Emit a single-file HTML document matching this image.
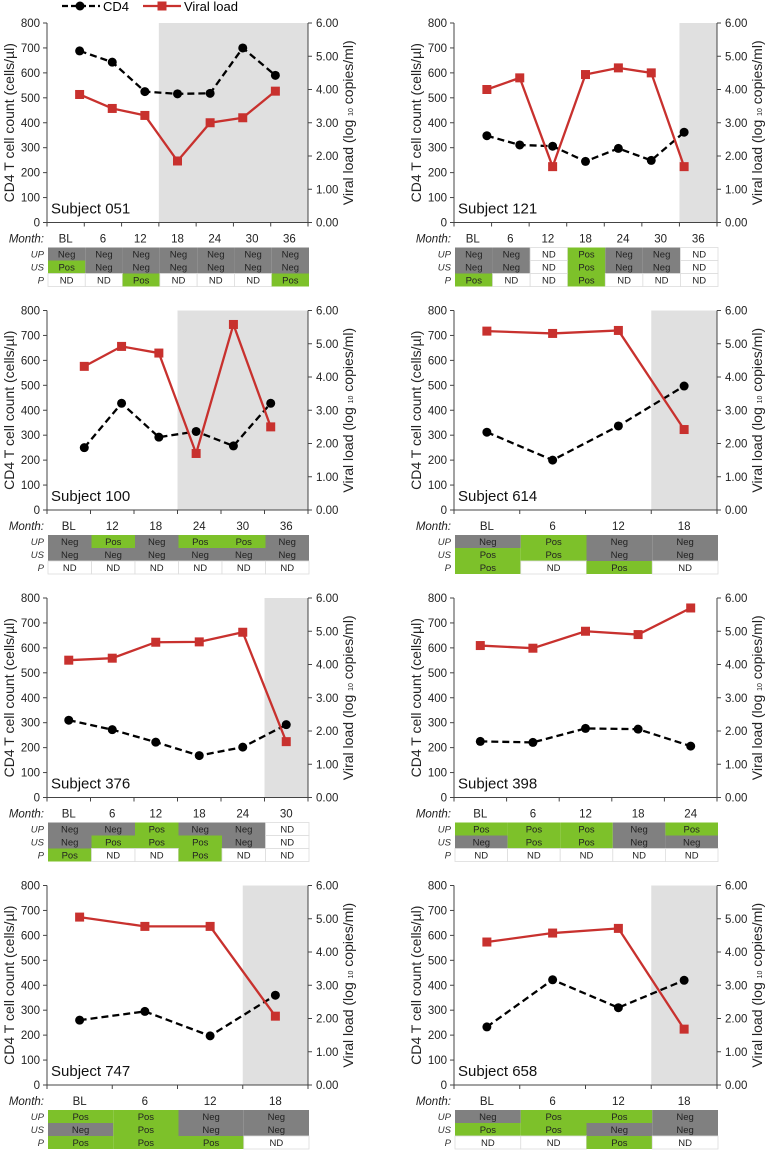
<!DOCTYPE html>
<html><head><meta charset="utf-8"><style>
html,body{margin:0;padding:0;background:#fff;}
svg{display:block;font-family:"Liberation Sans",sans-serif;}
</style></head><body>
<svg id="fig" width="768" height="1153" viewBox="0 0 768 1153" xmlns="http://www.w3.org/2000/svg">
<g>
<line x1="62" y1="6" x2="100" y2="6" stroke="#000" stroke-width="2.2" stroke-dasharray="6,3"/>
<circle cx="80" cy="6" r="4.5" fill="#000"/>
<text x="103" y="11" font-size="13">CD4</text>
<line x1="143" y1="6" x2="181" y2="6" stroke="#c8312e" stroke-width="2.2"/>
<rect x="157.5" y="1.5" width="9" height="9" fill="#c8312e"/>
<text x="184" y="11" font-size="13">Viral load</text>
</g>
</svg>
<script>
const subjects = ["051","121","100","614","376","398","747","658"];
const monthLabels = [
 ["BL","6","12","18","24","30","36"],
 ["BL","6","12","18","24","30","36"],
 ["BL","12","18","24","30","36"],
 ["BL","6","12","18"],
 ["BL","6","12","18","24","30"],
 ["BL","6","12","18","24"],
 ["BL","6","12","18"],
 ["BL","6","12","18"]];
const cd4Values = [
 [688,643,525,516,518,700,590],
 [348,311,306,245,297,249,362],
 [250,428,292,315,257,428],
 [312,200,337,497],
 [310,272,222,168,202,292],
 [225,221,277,274,206],
 [260,295,197,360],
 [233,422,310,420]];
const viralValues = [
 [3.85,3.43,3.22,1.85,3.00,3.15,3.95],
 [4.00,4.35,1.68,4.45,4.65,4.50,1.68],
 [4.32,4.92,4.72,1.70,5.58,2.50],
 [5.38,5.31,5.40,2.42],
 [4.13,4.19,4.67,4.68,4.97,1.68],
 [4.57,4.49,5.00,4.90,5.70],
 [5.05,4.77,4.77,2.07],
 [4.30,4.57,4.71,1.68]];
const rowUP = [
 ["Neg","Neg","Neg","Neg","Neg","Neg","Neg"],
 ["Neg","Neg","ND","Pos","Neg","Neg","ND"],
 ["Neg","Pos","Neg","Pos","Pos","Neg"],
 ["Neg","Pos","Neg","Neg"],
 ["Neg","Neg","Pos","Neg","Neg","ND"],
 ["Pos","Pos","Pos","Neg","Pos"],
 ["Pos","Pos","Neg","Neg"],
 ["Neg","Pos","Pos","Neg"]];
const rowUS = [
 ["Pos","Neg","Neg","Neg","Neg","Neg","Neg"],
 ["Neg","Neg","ND","Pos","Neg","Neg","ND"],
 ["Neg","Neg","Neg","Neg","Neg","Neg"],
 ["Pos","Pos","Neg","Neg"],
 ["Neg","Pos","Pos","Pos","Neg","ND"],
 ["Neg","Pos","Pos","Neg","Neg"],
 ["Neg","Pos","Neg","Neg"],
 ["Pos","Pos","Neg","Neg"]];
const rowP = [
 ["ND","ND","Pos","ND","ND","ND","Pos"],
 ["Pos","ND","ND","Pos","ND","ND","ND"],
 ["ND","ND","ND","ND","ND","ND"],
 ["Pos","ND","Pos","ND"],
 ["Pos","ND","ND","Pos","ND","ND"],
 ["ND","ND","ND","ND","ND"],
 ["Pos","Pos","Pos","ND"],
 ["ND","ND","Pos","ND"]];
const shadeFrom = [3,6,3,3,5,null,3,3];
const cd4Ticks = [0,100,200,300,400,500,600,700,800];
const vlTicks = ["0.00","1.00","2.00","3.00","4.00","5.00","6.00"];
// layout (not data): point step divisions and offset
const pointDiv = [8,8,7,4,6,5,4,4];
const pointOff = [1,1,1,0.5,0.5,0.5,0.5,0.5];

const NS="http://www.w3.org/2000/svg";
const svg=document.getElementById('fig');
const RED="#c8312e", GREEN="#7dc12a", GRAY="#808080", SHADE="#e0e0e0";
function mk(tag,attrs,parent,txt){const e=document.createElementNS(NS,tag);for(const k in attrs)e.setAttribute(k,attrs[k]);if(txt!==undefined)e.textContent=txt;(parent||svg).appendChild(e);return e;}

subjects.forEach((s,p)=>{
  const col=p%2,row=Math.floor(p/2);
  const L=col?454:47, R=col?717:308, T=23+row*287.5, B=T+199.5, W=R-L;
  const n=monthLabels[p].length, bw=W/n;
  const g=mk('g',{});
  
  
  const y1=v=>B-(v/800)*(B-T);
  const y2=v=>B-(v/6)*(B-T);
  const px=i=>L+(i+pointOff[p])*W/pointDiv[p];
  if(shadeFrom[p]!==null){
    const r=mk('rect',{x:L+shadeFrom[p]*bw,y:T,width:R-(L+shadeFrom[p]*bw),height:B-T,fill:SHADE},g);
    
    
  }
  // axes
  const ax=mk('g',{stroke:"#444","stroke-width":1},g);
  
  
  mk('line',{x1:L,y1:T,x2:L,y2:B},ax);
  mk('line',{x1:R,y1:T,x2:R,y2:B},ax);
  mk('line',{x1:L,y1:B,x2:R,y2:B},ax);
  cd4Ticks.forEach(v=>{
    mk('line',{x1:L-4,y1:y1(v),x2:L,y2:y1(v)},ax);
    const t=mk('text',{x:L-7,y:y1(v)+4,"font-size":11.5,"text-anchor":"end",fill:"#222"},g,v);
    
    
  });
  vlTicks.forEach(v=>{
    mk('line',{x1:R,y1:y2(+v),x2:R+4,y2:y2(+v)},ax);
    const t=mk('text',{x:R+8,y:y2(+v)+4,"font-size":11.5,fill:"#222"},g,v);
    
    
  });
  for(let i=0;i<=n;i++) mk('line',{x1:L+i*bw,y1:B,x2:L+i*bw,y2:B+4},ax);
  // axis titles
  const lt=mk('text',{x:0,y:0,"font-size":14,"text-anchor":"middle",fill:"#222",transform:`translate(${L-33},${(T+B)/2}) rotate(-90)`},g,"CD4 T cell count (cells/µl)");
  
  
  const rt=mk('text',{x:0,y:0,"font-size":14,"text-anchor":"middle",fill:"#222",transform:`translate(${R+45},${(T+B)/2}) rotate(-90)`},g);
  
  
  mk('tspan',{},rt,"Viral load (log ");
  mk('tspan',{"font-size":7},rt,"10");
  mk('tspan',{},rt," copies/ml)");
  const sl=mk('text',{x:L+4,y:B-9,"font-size":15,fill:"#111"},g,"Subject "+s);
  
  
  // month labels
  const ml=mk('text',{x:L-3,y:B+20,"font-size":11.5,"font-style":"italic","text-anchor":"end",fill:"#222"},g,"Month:");
  
  
  monthLabels[p].forEach((m,i)=>{
    const t=mk('text',{x:L+(i+0.5)*bw,y:B+20,"font-size":11.5,"text-anchor":"middle",fill:"#222"},g,m);
    
    
  });
  // CD4 series
  const cd=cd4Values[p].map((v,i)=>px(i)+","+y1(v)).join(" ");
  const cl=mk('polyline',{points:cd,fill:"none",stroke:"#000","stroke-width":2.3,"stroke-dasharray":"7,4"},g);
  
  
  // viral series
  const vd=viralValues[p].map((v,i)=>px(i)+","+y2(v)).join(" ");
  const vl=mk('polyline',{points:vd,fill:"none",stroke:RED,"stroke-width":2.3},g);
  
  
  cd4Values[p].forEach((v,i)=>{
    const c=mk('circle',{cx:px(i),cy:y1(v),r:4.5,fill:"#000"},g);
    
    
  });
  viralValues[p].forEach((v,i)=>{
    const r=mk('rect',{x:px(i)-4.5,y:y2(v)-4.5,width:9,height:9,fill:RED},g);
    
    
  });
  // table
  const rows=[["UP",rowUP[p]],["US",rowUS[p]],["P",rowP[p]]];
  const tb=mk('g',{},g);
  
  
  const tT=B+25, rh=13;
  rows.forEach((r,ri)=>{
    const yy=tT+ri*rh;
    const lb=mk('text',{x:L-3,y:yy+10,"font-size":9.5,"font-style":"italic","text-anchor":"end",fill:"#333"},tb,r[0]);
    
    
    r[1].forEach((v,i)=>{
      const fill=v==="Pos"?GREEN:(v==="Neg"?GRAY:"#fff");
      const c=mk('rect',{x:L+1+i*bw,y:yy,width:bw,height:rh,fill:fill,stroke:v==="ND"?"#ddd":"none","stroke-width":0.8},tb);
      
      
      const t=mk('text',{x:L+1+(i+0.5)*bw,y:yy+10,"font-size":9.5,"text-anchor":"middle",fill:"#222"},tb,v);
      
      
    });
  });
});
</script>
</body></html>
